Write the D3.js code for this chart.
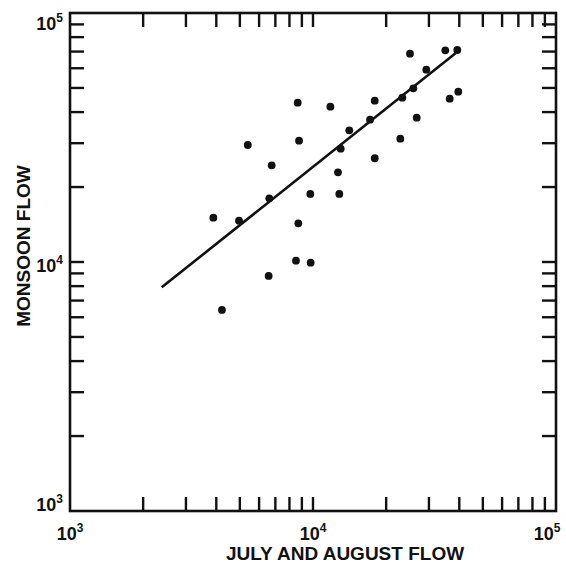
<!DOCTYPE html>
<html>
<head>
<meta charset="utf-8">
<script src="https://cdn.jsdelivr.net/npm/d3@7"></script>
<style>
  body { margin: 0; background: #fff; }
  text { font-family: "Liberation Sans", Arial, sans-serif; font-weight: bold; fill: #111; }
</style>
</head>
<body>
<div id="chart"></div>
<script>
// July+August flow (x) vs monsoon flow (y)
const julyAugustFlow = [3890, 4220, 4960, 5390, 6760, 6610, 6570, 8650, 8760, 8700,
  8510, 9750, 9780, 11790, 12670, 12830, 14100, 13000, 17170, 17950,
  17950, 22870, 23310, 25070, 25870, 26720, 29260, 35030, 36520, 39250, 39620];
const monsoonFlow = [15070, 6420, 14650, 29510, 24450, 18020, 8790, 43620, 30700, 14300,
  10120, 18760, 9940, 42050, 22920, 18760, 33800, 28510, 37280, 44440,
  26100, 31270, 45700, 68650, 49840, 37980, 59200, 70800, 45270, 71030, 48300];

// fitted regression line end points
const fitX = [2385, 38590];
const fitY = [7912, 68880];

const decadeExponents = [3, 4, 5];

const width = 566, height = 569;
const margin = { top: 13, right: 10, bottom: 58, left: 70 };
const tickLen = 14;

const svg = d3.select("#chart")
  .append("svg")
  .attr("width", width)
  .attr("height", height);

const x = d3.scaleLog()
  .domain([1e3, 1e5])
  .range([margin.left, width - margin.right]);

const y = d3.scaleLog()
  .domain([1e3, 1e5])
  .range([height - margin.bottom, margin.top]);

// minor + major ticks (inward on all four sides), skipping the corners
const tickVals = x.ticks().filter(v => v > 1e3 && v < 1e5);

const ink = "#111";

const ticks = svg.append("g")
  .attr("stroke", ink)
  .attr("stroke-width", 2.4);

// bottom & top
ticks.selectAll(".tb")
  .data(tickVals)
  .enter().append("line")
  .attr("x1", d => x(d)).attr("x2", d => x(d))
  .attr("y1", y(1e3)).attr("y2", y(1e3) - tickLen);
ticks.selectAll(".tt")
  .data(tickVals)
  .enter().append("line")
  .attr("x1", d => x(d)).attr("x2", d => x(d))
  .attr("y1", y(1e5)).attr("y2", y(1e5) + tickLen);
// left & right
ticks.selectAll(".tl")
  .data(tickVals)
  .enter().append("line")
  .attr("y1", d => y(d)).attr("y2", d => y(d))
  .attr("x1", x(1e3)).attr("x2", x(1e3) + tickLen);
ticks.selectAll(".tr")
  .data(tickVals)
  .enter().append("line")
  .attr("y1", d => y(d)).attr("y2", d => y(d))
  .attr("x1", x(1e5)).attr("x2", x(1e5) - tickLen);

// frame
svg.append("rect")
  .attr("x", x(1e3))
  .attr("y", y(1e5))
  .attr("width", x(1e5) - x(1e3))
  .attr("height", y(1e3) - y(1e5))
  .attr("fill", "none")
  .attr("stroke", ink)
  .attr("stroke-width", 2.6);

// x tick labels
const xLab = svg.selectAll(".xlab")
  .data(decadeExponents)
  .enter().append("text")
  .attr("x", d => x(Math.pow(10, d)) + (d === 5 ? -9 : 0))
  .attr("y", height - margin.bottom + 29)
  .attr("text-anchor", "middle")
  .style("font-size", "18px");
xLab.append("tspan").text("10");
xLab.append("tspan")
  .attr("dy", -8)
  .style("font-size", "12px")
  .text(d => d);

// y tick labels
const yOffset = { 3: 0, 4: 10, 5: 17 };
const yLab = svg.selectAll(".ylab")
  .data(decadeExponents)
  .enter().append("text")
  .attr("x", x(1e3) - 7)
  .attr("y", d => y(Math.pow(10, d)) + yOffset[d])
  .attr("text-anchor", "end")
  .style("font-size", "18px");
yLab.append("tspan").text("10");
yLab.append("tspan")
  .attr("dy", -8)
  .style("font-size", "12px")
  .text(d => d);

// axis titles
svg.append("text")
  .attr("x", 345)
  .attr("y", 560)
  .attr("text-anchor", "middle")
  .style("font-size", "19px")
  .text("JULY AND AUGUST FLOW");

svg.append("text")
  .attr("transform", "translate(30,246) rotate(-90)")
  .attr("text-anchor", "middle")
  .style("font-size", "19px")
  .text("MONSOON FLOW");

// regression line
svg.append("line")
  .attr("x1", x(fitX[0])).attr("y1", y(fitY[0]))
  .attr("x2", x(fitX[1])).attr("y2", y(fitY[1]))
  .attr("stroke", ink)
  .attr("stroke-width", 2.6);

// points
svg.selectAll(".pt")
  .data(julyAugustFlow.map((v, i) => [v, monsoonFlow[i]]))
  .enter().append("circle")
  .attr("cx", d => x(d[0]))
  .attr("cy", d => y(d[1]))
  .attr("r", 3.9)
  .attr("fill", ink);
</script>
</body>
</html>
